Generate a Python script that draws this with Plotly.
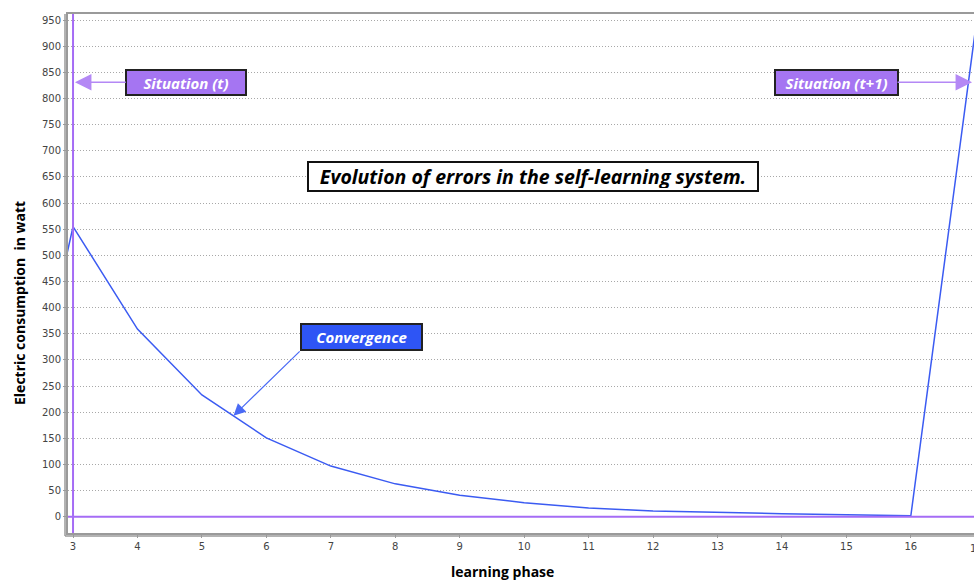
import plotly.graph_objects as go

# ---- data ----
phases = [2, 3, 4, 5, 6, 7, 8, 9, 10, 11, 12, 13, 14, 15, 16, 17]
errors = [0, 555, 359, 233, 151, 97, 63, 41, 27, 17, 11, 8, 6, 4, 2, 930]
x_ticks = list(range(3, 18))
y_ticks = list(range(0, 951, 50))

BLUE = "#3b5bf2"
PURPLE = "#a56cf5"
BOX_PURPLE = "#a575f2"
BOX_BLUE = "#2e55f5"
GRAY = "#9a9a9a"

fig = go.Figure()
fig.add_trace(go.Scatter(x=phases, y=errors, mode="lines",
                         line=dict(color=BLUE, width=1.5), showlegend=False,
                         hoverinfo="skip"))

W, H = 974, 580
L, R, T, B = 68, 0, 14, 47
pw = W - L - R
ph = H - T - B


def px(xpage):
    return (xpage - L) / pw


def py(ypage):
    return (H - B - ypage) / ph


fig.update_layout(
    width=W, height=H,
    margin=dict(l=L, r=R, t=T, b=B, pad=0, autoexpand=False),
    paper_bgcolor="white", plot_bgcolor="white",
    font=dict(family="DejaVu Sans", size=10, color="#444"),
    xaxis=dict(range=[2.922, 16.98], tickmode="array", tickvals=x_ticks,
               ticktext=[str(v) for v in x_ticks], showgrid=False, zeroline=False,
               showline=True, linecolor=GRAY, linewidth=2, mirror=True, automargin=False,
               ticks="outside", ticklen=3, tickcolor=GRAY, ticklabeloverflow="allow",
               tickfont=dict(family="DejaVu Sans", size=10, color="#444")),
    yaxis=dict(range=[-31, 961.5], tickmode="array", tickvals=y_ticks, automargin=False,
               showgrid=True, gridcolor="#a8a8a8", griddash="1px,2px", gridwidth=1,
               zeroline=False, showline=True, linecolor=GRAY, linewidth=2,
               mirror=True, ticks="outside", ticklen=3, tickcolor=GRAY,
               tickfont=dict(family="DejaVu Sans", size=10, color="#444")),
)

# purple reference lines
fig.add_shape(type="line", xref="x", yref="paper", x0=3, x1=3, y0=0, y1=1,
              line=dict(color=PURPLE, width=2))
fig.add_shape(type="line", xref="paper", yref="y", x0=0, x1=1, y0=0, y1=0,
              line=dict(color=PURPLE, width=2))
# second gray line (double border look)
fig.add_shape(type="line", xref="paper", yref="paper", x0=-3 / pw, x1=-3 / pw,
              y0=-3 / ph, y1=1, line=dict(color=GRAY, width=1.5))
fig.add_shape(type="line", xref="paper", yref="paper", x0=-3 / pw, x1=1,
              y0=-3 / ph, y1=-3 / ph, line=dict(color=GRAY, width=1.5))

title_font = dict(family="Open Sans", size=14, color="black")
fig.add_annotation(text="<b>Electric consumption  in watt</b>", xref="paper", yref="paper",
                   x=px(19), y=py(303), textangle=-90,
                   showarrow=False, font=title_font, xanchor="center", yanchor="middle")
fig.add_annotation(text="<b>learning phase</b>", xref="paper", yref="paper",
                   x=px(502), y=py(571),
                   showarrow=False, font=title_font, xanchor="center", yanchor="middle")
# partially visible last tick label (cut by the right edge, as in the original)
fig.add_annotation(text=str(x_ticks[-1]), xref="paper", yref="paper", x=px(977), y=py(548),
                   showarrow=False, xanchor="center", yanchor="middle",
                   font=dict(family="DejaVu Sans", size=10, color="#444"))

box_font = dict(family="Open Sans", size=15, color="white")

# Situation (t)
fig.add_annotation(text="<b><i>Situation (t)</i></b>", x=3.03, y=831, ax=4.75, ay=831,
                   xref="x", yref="y", axref="x", ayref="y",
                   showarrow=True, arrowhead=2, arrowsize=2.2, arrowwidth=1.5,
                   arrowcolor="#b488f5", bgcolor=BOX_PURPLE, bordercolor="#222",
                   borderwidth=2, borderpad=2, width=114, height=19, font=box_font)
# Situation (t+1)
fig.add_annotation(text="<b><i>Situation (t+1)</i></b>", x=16.95, y=831, ax=14.84, ay=831,
                   xref="x", yref="y", axref="x", ayref="y",
                   showarrow=True, arrowhead=2, arrowsize=2.2, arrowwidth=1.5,
                   arrowcolor="#b488f5", bgcolor=BOX_PURPLE, bordercolor="#222",
                   borderwidth=2, borderpad=2, width=117, height=19, font=box_font)
# Title box
fig.add_annotation(text="<b><i>Evolution of errors in the self-learning system.</i></b>",
                   x=10.13, y=650, xref="x", yref="y", showarrow=False,
                   bgcolor="white", bordercolor="#111", borderwidth=2, borderpad=2,
                   width=444, height=23,
                   font=dict(family="Open Sans", size=19.5, color="black"))
# Convergence box
fig.add_annotation(text="<b><i>Convergence</i></b>", x=7.48, y=344, xref="x", yref="y",
                   showarrow=False, bgcolor=BOX_BLUE, bordercolor="#222",
                   borderwidth=2, borderpad=2, width=115, height=20, font=box_font)
# Convergence arrow
fig.add_annotation(text="", x=5.49, y=193, ax=(301 - 73) / 64.4 + 3, ay=(517 - 350) / 0.5232,
                   xref="x", yref="y", axref="x", ayref="y",
                   showarrow=True, arrowhead=2, arrowsize=2.0, arrowwidth=1.2,
                   arrowcolor="#4a6af5")

fig.write_html("out.html", config={"displayModeBar": False},
               post_script="document.body.style.margin='0';document.body.style.overflow='hidden';")
